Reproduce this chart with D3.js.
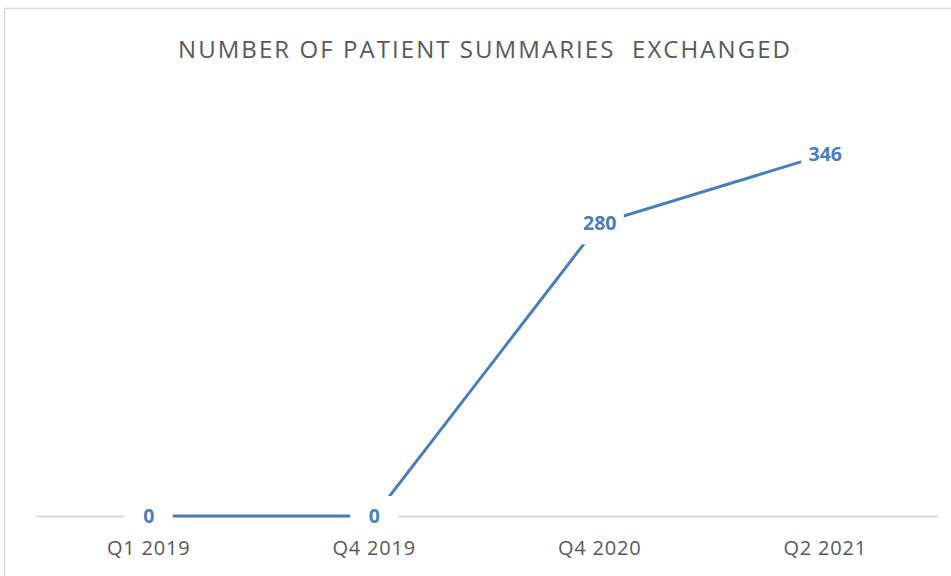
<!DOCTYPE html>
<html>
<head>
<meta charset="utf-8">
<script src="https://cdn.jsdelivr.net/npm/d3@7"></script>
<style>
body{margin:0;background:#fff}
svg{display:block}
</style>
</head>
<body>
<svg></svg>
<script>
var quarters = ["Q1 2019","Q4 2019","Q4 2020","Q2 2021"]
var summaries = [0,0,280,346]
var chartTitle = "NUMBER OF PATIENT SUMMARIES  EXCHANGED"

var screen = {width:951,height:576}
var margin = {left:36,right:13,top:98,bottom:60}

var svg = d3.select("svg")
    .attr("width",screen.width)
    .attr("height",screen.height)

// chart frame (right and bottom edges fall outside the picture)
svg.append("rect")
    .attr("x",4.5).attr("y",8.5)
    .attr("width",960).attr("height",600)
    .attr("fill","none")
    .attr("stroke","#d9d9d9")
    .attr("stroke-width",1.5)

svg.append("text")
    .attr("x",484).attr("y",58)
    .attr("text-anchor","middle")
    .attr("font-family","Open Sans, sans-serif")
    .attr("font-size",24)
    .attr("fill","#595959")
    .attr("textLength",612)
    .attr("lengthAdjust","spacing")
    .style("white-space","pre")
    .text(chartTitle)

var xScale = d3.scaleBand()
    .domain(quarters)
    .range([margin.left,screen.width-margin.right])

var yScale = d3.scaleLinear()
    .domain([0,400])
    .range([516,516-418])

var xAxis = svg.append("g")
    .attr("transform","translate(0,516)")
    .call(d3.axisBottom(xScale).tickSize(0).tickPadding(25))
xAxis.select(".domain").attr("stroke","#d9d9d9").attr("stroke-width",2)
xAxis.selectAll("text")
    .attr("font-family","Open Sans, sans-serif")
    .attr("font-size",20)
    .attr("letter-spacing",0.8)
    .attr("fill","#595959")

var points = quarters.map(function(q,i){
    return {q:q, v:summaries[i]}
})

var line = d3.line()
    .x(function(d){return xScale(d.q)+xScale.bandwidth()/2})
    .y(function(d){return yScale(d.v)})

svg.append("path")
    .datum(points)
    .attr("d",line)
    .attr("fill","none")
    .attr("stroke","#4a7ebb")
    .attr("stroke-width",3)

// data labels with white backing box
var labels = svg.selectAll(".lbl")
    .data(points)
    .enter()
    .append("g")
    .attr("class","lbl")
    .attr("transform",function(d){
        return "translate("+(xScale(d.q)+xScale.bandwidth()/2)+","+yScale(d.v)+")"
    })

labels.append("rect")
    .attr("x",-24)
    .attr("y",-20)
    .attr("width",48)
    .attr("height",41)
    .attr("fill","#fff")

labels.append("text")
    .attr("text-anchor","middle")
    .attr("dy","0.36em")
    .attr("font-family","Open Sans, sans-serif")
    .attr("font-weight","bold")
    .attr("font-size",19.5)
    .attr("fill","#4a7ebb")
    .text(function(d){return d.v})
</script>
</body>
</html>
